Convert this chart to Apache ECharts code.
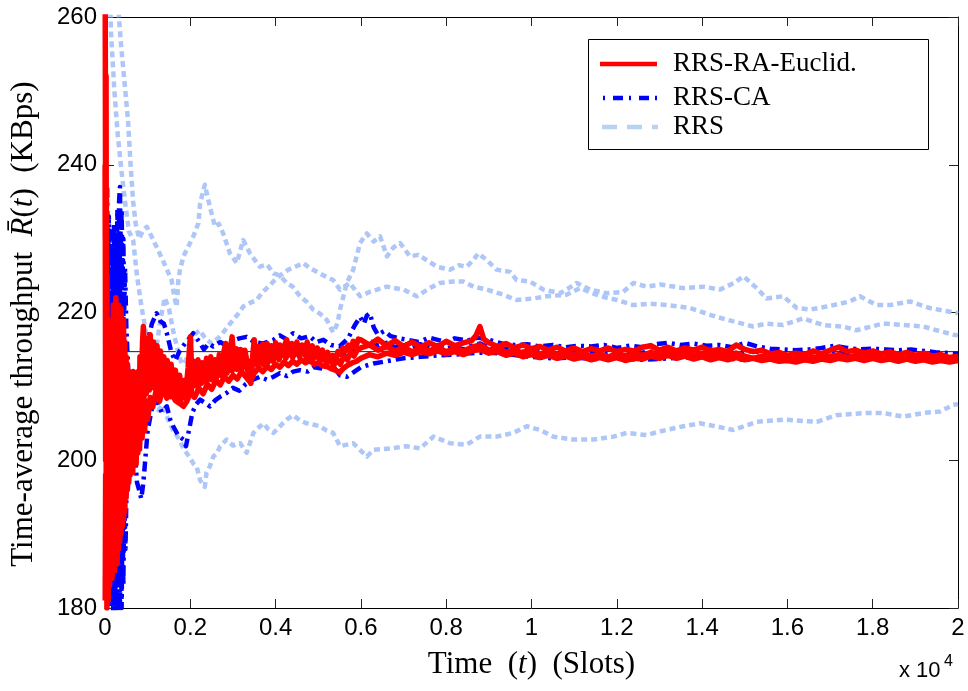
<!DOCTYPE html>
<html>
<head>
<meta charset="utf-8">
<script src="https://cdn.jsdelivr.net/npm/echarts@6/dist/echarts.min.js"></script>
<style>
html,body{margin:0;padding:0;background:#fff;}
#chart{width:968px;height:691px;}
</style>
</head>
<body>
<div id="chart"></div>
<script>
// x values are in units of 10^4 slots
const xTicks = [0, 0.2, 0.4, 0.6, 0.8, 1, 1.2, 1.4, 1.6, 1.8, 2];
const yTicks = [180, 200, 220, 240, 260];
const legendNames = ['RRS-RA-Euclid.', 'RRS-CA', 'RRS'];
const referenceLevel = [[0, 214.7], [2, 214.7]];

const rrsTop = [[0.01,300],[0.022,272],[0.03,262],[0.038,256],[0.046,251],[0.054,246],[0.06,240],[0.066,235],[0.072,232],[0.08,230],[0.088,231],[0.098,231.6],[0.11,230.2],[0.124,228.5],[0.14,226.5],[0.156,224.4],[0.163,222],[0.168,220.8],[0.172,224.4],[0.176,225.8],[0.184,227.6],[0.195,228.9],[0.207,230.3],[0.219,232.1],[0.223,234.8],[0.234,237.3],[0.246,234.3],[0.258,231.6],[0.267,232],[0.277,230.7],[0.293,228.0],[0.309,226.7],[0.324,229.8],[0.34,228.0],[0.363,226.2],[0.38,226.5],[0.395,225.3],[0.41,225],[0.426,224.0],[0.44,223.5],[0.457,222.2],[0.472,221.5],[0.488,220.4],[0.505,219.8],[0.52,219.0],[0.535,217.3],[0.545,218.5],[0.551,220.4],[0.567,224.0],[0.582,225.8],[0.598,229.4],[0.614,230.7],[0.63,229.6],[0.645,230.3],[0.661,227.6],[0.676,228.8],[0.692,229.4],[0.715,227.6],[0.735,227.8],[0.754,227.1],[0.778,226.2],[0.809,225.8],[0.83,226.4],[0.848,226.2],[0.865,227.2],[0.875,228.0],[0.895,227.1],[0.918,225.8],[0.95,225.5],[0.965,224.4],[0.996,224.2],[1.028,223.1],[1.067,222.6],[1.09,223.4],[1.106,224.0],[1.137,223.1],[1.176,222.6],[1.215,222.8],[1.239,224.0],[1.27,223.5],[1.301,223.8],[1.356,223.3],[1.403,223.5],[1.442,223.1],[1.475,224.0],[1.497,224.9],[1.528,223.3],[1.551,221.9],[1.59,222.2],[1.622,220.6],[1.653,220.4],[1.692,220.8],[1.747,221.5],[1.77,222.2],[1.809,221.0],[1.841,221.0],[1.887,221.5],[1.934,220.6],[1.981,220.1],[2.0,219.9]];

const rrsMid = [[0.003,300],[0.008,272],[0.014,258],[0.022,250],[0.03,244],[0.039,239],[0.047,235],[0.056,231],[0.066,229.8],[0.075,225],[0.085,221],[0.094,218],[0.104,214],[0.112,212],[0.12,215],[0.13,219],[0.14,222],[0.15,220.5],[0.16,217.5],[0.17,215],[0.18,213],[0.19,213.5],[0.2,215.5],[0.21,217],[0.222,217.6],[0.235,216.5],[0.25,215.8],[0.265,216.5],[0.28,217.5],[0.3,219.0],[0.312,219.8],[0.324,220.8],[0.34,221.3],[0.356,221.7],[0.37,222.8],[0.385,223.6],[0.4,224.5],[0.415,225.2],[0.43,225.8],[0.45,226.3],[0.465,226.7],[0.48,226.0],[0.5,225.4],[0.52,224.8],[0.535,224.4],[0.551,223.1],[0.574,224.0],[0.598,222.2],[0.621,222.8],[0.661,223.5],[0.7,223.1],[0.731,222.2],[0.762,223.3],[0.785,224.0],[0.817,224.2],[0.84,224.2],[0.864,223.5],[0.895,223.1],[0.934,222.4],[0.965,221.7],[1.004,221.9],[1.036,222.2],[1.082,222.4],[1.114,223.3],[1.161,222.2],[1.2,221.7],[1.239,221.0],[1.278,221.2],[1.317,221.0],[1.372,220.6],[1.434,219.4],[1.473,218.8],[1.52,218.1],[1.551,218.5],[1.59,218.3],[1.637,219.2],[1.684,218.3],[1.731,218.1],[1.762,217.6],[1.825,218.5],[1.872,218.3],[1.919,218.1],[1.95,217.6],[1.989,217.0],[2.0,216.9]];

const rrsLow = [[0.003,150],[0.015,178],[0.025,183],[0.035,188],[0.045,193],[0.055,196.5],[0.065,199.5],[0.075,202],[0.085,204.5],[0.095,207],[0.105,208.5],[0.115,207.5],[0.125,206.8],[0.135,207.5],[0.148,205.5],[0.16,204],[0.172,203],[0.185,201.5],[0.197,200.5],[0.208,199.5],[0.215,199.1],[0.223,197.3],[0.234,196.4],[0.238,198.3],[0.246,199.2],[0.254,200.5],[0.262,200.9],[0.27,201.9],[0.285,202.8],[0.3,202.0],[0.317,202.3],[0.332,201.0],[0.348,203.7],[0.36,204.4],[0.371,205.0],[0.383,204.2],[0.395,203.7],[0.41,204.6],[0.426,205.5],[0.441,206.1],[0.457,205.4],[0.473,205.0],[0.49,204.8],[0.504,204.6],[0.52,204.0],[0.535,203.7],[0.551,201.9],[0.582,202.3],[0.614,200.5],[0.629,201.4],[0.668,201.6],[0.707,201.9],[0.739,201.6],[0.77,203.2],[0.809,202.3],[0.848,202.1],[0.879,203.2],[0.918,203.2],[0.957,203.7],[0.989,204.6],[1.02,204.1],[1.051,203.2],[1.098,202.8],[1.145,202.8],[1.192,203.2],[1.223,203.7],[1.27,203.4],[1.301,203.9],[1.356,204.6],[1.395,205.0],[1.44,204.5],[1.473,204.1],[1.528,205.2],[1.59,205.5],[1.669,205.2],[1.715,206.1],[1.786,206.4],[1.825,206.4],[1.872,205.9],[1.919,206.4],[1.958,206.6],[1.989,207.5],[2.0,207.6]];

const caHi = [[0.001,250],[0.003,228],[0.005,237],[0.007,222],[0.009,233],[0.011,220],[0.013,231],[0.015,218],[0.017,229],[0.019,221],[0.021,232],[0.023,219],[0.025,230],[0.027,222],[0.029,234],[0.031,225],[0.033,235],[0.035,237],[0.037,228],[0.039,234],[0.041,224],[0.043,230],[0.045,220],[0.047,226],[0.05,218],[0.053,214],[0.056,210],[0.06,212],[0.064,206],[0.068,208],[0.072,205],[0.076,209],[0.08,212],[0.085,211],[0.09,213.5],[0.1,216],[0.11,218.5],[0.121,219.9],[0.13,218.8],[0.138,218.5],[0.145,217.2],[0.156,214.5],[0.165,213.5],[0.175,214.8],[0.185,215.6],[0.196,216.4],[0.207,217.2],[0.22,216.1],[0.232,215.0],[0.243,215.8],[0.254,215.4],[0.27,216.0],[0.285,215.5],[0.3,216.2],[0.315,216.5],[0.332,216.7],[0.35,216.0],[0.37,215.8],[0.395,216.3],[0.41,216.9],[0.425,216.4],[0.441,217.2],[0.46,216.5],[0.48,216.8],[0.495,216.0],[0.512,216.3],[0.53,215.6],[0.55,215.4],[0.57,216.5],[0.585,218.2],[0.598,219.4],[0.607,218.5],[0.614,219.6],[0.621,219.9],[0.63,218.0],[0.64,217.0],[0.655,217.5],[0.67,216.8],[0.69,216.5],[0.71,216.3],[0.735,216.0],[0.76,216.6],[0.78,216.3],[0.8,216.0],[0.82,216.5],[0.85,216.2],[0.875,216.6],[0.9,216.3],[0.93,215.8],[0.96,215.6],[0.99,215.7],[1.02,215.4],[1.05,215.6],[1.08,215.3],[1.11,215.5],[1.14,215.4],[1.17,215.6],[1.2,215.2],[1.23,215.5],[1.26,215.3],[1.29,215.7],[1.32,215.9],[1.35,215.6],[1.38,215.8],[1.41,215.5],[1.44,215.6],[1.47,215.3],[1.5,215.9],[1.53,215.4],[1.56,215.1],[1.59,215.0],[1.62,214.9],[1.65,215.0],[1.68,215.2],[1.71,215.5],[1.74,215.2],[1.77,215.0],[1.8,215.1],[1.83,215.0],[1.86,214.9],[1.89,215.0],[1.92,214.8],[1.95,214.6],[1.98,214.5],[2.0,214.4]];

const caMid = [[0.001,215],[0.003,232],[0.005,205],[0.007,226],[0.009,198],[0.011,222],[0.013,196],[0.015,225],[0.017,199],[0.019,228],[0.021,195],[0.023,224],[0.025,190],[0.027,218],[0.029,195],[0.031,226],[0.033,200],[0.035,230],[0.037,205],[0.039,227],[0.041,202],[0.043,221],[0.045,199],[0.047,214],[0.05,200],[0.053,210],[0.056,198],[0.06,207],[0.064,201],[0.068,211],[0.072,205],[0.076,208],[0.08,203],[0.084,206],[0.088,208],[0.095,212.7],[0.105,211],[0.115,213.5],[0.125,212],[0.135,210.2],[0.148,211.5],[0.16,209.5],[0.172,208.6],[0.184,209.8],[0.196,210.5],[0.21,212.2],[0.225,211],[0.24,211.9],[0.255,212.6],[0.27,211.8],[0.285,213.2],[0.3,213.6],[0.32,212.7],[0.34,213.4],[0.36,214.0],[0.38,213.5],[0.4,214.2],[0.42,214.6],[0.44,214.1],[0.46,214.8],[0.48,214.2],[0.5,213.9],[0.52,213.4],[0.54,213.8],[0.56,214.3],[0.58,215.0],[0.6,215.6],[0.62,216.2],[0.64,215.5],[0.66,215.9],[0.68,215.3],[0.7,215.8],[0.72,215.4],[0.74,215.7],[0.76,215.2],[0.78,215.6],[0.8,215.1],[0.82,215.4],[0.84,215.0],[0.86,215.5],[0.88,215.8],[0.9,215.2],[0.92,214.9],[0.95,215.1],[0.98,214.7],[1.01,214.9],[1.04,214.5],[1.07,214.6],[1.1,214.3],[1.13,214.6],[1.16,214.4],[1.19,214.7],[1.22,214.3],[1.25,214.5],[1.28,214.7],[1.31,214.9],[1.34,214.6],[1.37,214.8],[1.4,214.5],[1.43,214.7],[1.46,214.4],[1.49,214.6],[1.52,214.8],[1.55,214.4],[1.58,214.2],[1.61,214.0],[1.64,214.3],[1.67,214.1],[1.7,214.4],[1.73,214.6],[1.76,214.3],[1.79,214.1],[1.82,214.4],[1.85,214.3],[1.88,214.1],[1.91,214.2],[1.94,214.0],[1.97,213.8],[2.0,213.9]];

const caLo = [[0.001,240],[0.003,210],[0.005,195],[0.007,185],[0.009,192],[0.011,182],[0.013,190],[0.015,180],[0.017,188],[0.019,179],[0.021,186],[0.023,178],[0.025,187],[0.027,179],[0.029,189],[0.031,178],[0.033,190],[0.035,179],[0.037,191],[0.039,180],[0.041,193],[0.043,183],[0.045,195],[0.048,188],[0.051,198],[0.055,200],[0.06,204],[0.065,202],[0.07,201],[0.075,197],[0.08,196],[0.085,194.8],[0.09,197],[0.095,200.5],[0.1,204],[0.11,207],[0.121,208.2],[0.133,206.5],[0.145,207.3],[0.153,205.5],[0.16,204.6],[0.172,203.3],[0.184,202.8],[0.19,201.9],[0.196,203.8],[0.205,206.5],[0.214,207.6],[0.223,208.2],[0.234,207.8],[0.246,207.3],[0.258,208.1],[0.27,208.6],[0.285,209.1],[0.3,209.8],[0.315,209.4],[0.33,210.3],[0.347,210.9],[0.363,211.3],[0.38,210.9],[0.395,211.3],[0.41,211.8],[0.426,211.4],[0.441,212.0],[0.457,212.2],[0.475,212.0],[0.49,212.6],[0.51,212.4],[0.535,212.7],[0.551,211.5],[0.567,211.3],[0.585,212.0],[0.6,212.6],[0.63,213.1],[0.66,213.4],[0.7,213.8],[0.74,214.0],[0.78,214.2],[0.82,214.3],[0.86,214.5],[0.9,214.6],[0.95,214.3],[1.0,214.0],[1.05,213.8],[1.1,213.9],[1.15,213.7],[1.2,213.8],[1.25,213.6],[1.3,213.7],[1.35,213.9],[1.4,214.0],[1.45,213.8],[1.5,213.6],[1.55,213.8],[1.6,213.7],[1.65,213.6],[1.7,213.8],[1.75,213.9],[1.8,213.7],[1.85,213.8],[1.9,213.9],[1.95,213.7],[2.0,213.6]];

const raHi = [[0.0005,262],[0.0015,230],[0.0025,252],[0.0035,205],[0.0045,225],[0.006,198],[0.0075,219],[0.009,190],[0.0105,216],[0.012,195],[0.0135,219],[0.015,200],[0.0165,218],[0.018,197],[0.0195,221],[0.021,203],[0.0225,220],[0.024,201],[0.0255,222],[0.027,205],[0.0285,219],[0.03,199],[0.0315,221],[0.033,204],[0.0345,218],[0.036,201],[0.0375,220.5],[0.039,206],[0.0405,217],[0.042,203],[0.0435,219],[0.045,205],[0.0465,216],[0.048,202],[0.0495,214],[0.051,206],[0.0525,213],[0.054,200],[0.0555,212],[0.057,204],[0.0585,211],[0.06,201],[0.062,210],[0.064,205],[0.066,212],[0.068,200],[0.07,208],[0.072,203],[0.074,210],[0.076,205],[0.078,212],[0.08,207],[0.082,214],[0.085,209],[0.088,216],[0.09,218.1],[0.094,211.5],[0.098,216.5],[0.102,210.5],[0.106,217],[0.11,211.5],[0.114,216],[0.118,210.8],[0.122,215.5],[0.126,211],[0.13,214.8],[0.134,210.2],[0.138,214],[0.142,209.8],[0.146,213.5],[0.15,210.2],[0.155,213],[0.16,209.5],[0.165,212.2],[0.17,209.1],[0.175,211.5],[0.18,208.7],[0.185,210.8],[0.19,209.5],[0.195,212.6],[0.2,216.7],[0.204,211.2],[0.208,213.4],[0.213,210.6],[0.218,213.6],[0.223,211],[0.228,213.2],[0.233,210.9],[0.238,213.8],[0.243,211.3],[0.248,214],[0.253,211.2],[0.258,213.6],[0.263,211.8],[0.268,214.3],[0.273,212],[0.278,214.5],[0.283,215.8],[0.288,212.4],[0.293,214.6],[0.298,216.7],[0.303,213],[0.308,215.1],[0.313,212.8],[0.318,215.0],[0.323,212.6],[0.328,214.9],[0.333,213.3],[0.338,211.5],[0.342,210.4],[0.346,214],[0.35,216.3],[0.355,213.5],[0.36,215.4],[0.365,213.3],[0.37,215.7],[0.375,213.6],[0.38,215.8],[0.385,213.9],[0.39,215.5],[0.395,213.7],[0.4,215.9],[0.405,214.0],[0.41,215.6],[0.415,214.2],[0.42,215.4],[0.426,216.3],[0.432,214.3],[0.438,215.8],[0.444,214.4],[0.45,216.0],[0.456,214.2],[0.462,215.6],[0.468,214.5],[0.474,216.0],[0.48,214.6],[0.486,215.5],[0.492,214.3],[0.498,215.2],[0.504,214.0],[0.51,214.9],[0.516,213.8],[0.522,214.6],[0.528,213.5],[0.534,214.2],[0.54,213.6],[0.546,214.7],[0.552,214.3],[0.558,215.2],[0.564,214.8],[0.57,215.6],[0.576,215.0],[0.582,216.1],[0.588,215.3],[0.594,216.4],[0.6,216.3],[0.62,215.6],[0.64,216.4],[0.66,215.5],[0.68,216.2],[0.7,215.4],[0.72,216.0],[0.74,215.3],[0.76,215.9],[0.78,215.4],[0.8,216.1],[0.82,215.5],[0.84,215.9],[0.86,216.2],[0.87,216.9],[0.879,218.1],[0.888,216.4],[0.9,215.9],[0.92,215.4],[0.94,215.8],[0.96,215.2],[0.98,215.6],[1.0,215.1],[1.02,215.4],[1.04,214.9],[1.06,215.3],[1.08,214.8],[1.1,215.2],[1.12,214.7],[1.14,215.1],[1.16,214.8],[1.18,215.2],[1.2,214.7],[1.22,215.0],[1.24,214.8],[1.26,215.3],[1.28,215.5],[1.3,214.9],[1.32,215.3],[1.34,214.8],[1.36,215.2],[1.38,214.9],[1.4,215.3],[1.42,214.8],[1.44,215.0],[1.46,214.7],[1.48,215.6],[1.5,215.0],[1.52,214.7],[1.54,214.9],[1.56,214.4],[1.58,214.6],[1.6,214.2],[1.62,214.5],[1.64,214.3],[1.66,214.8],[1.68,214.4],[1.7,214.9],[1.72,215.3],[1.74,214.7],[1.76,214.9],[1.78,214.5],[1.8,214.8],[1.82,214.4],[1.84,214.7],[1.86,214.3],[1.88,214.6],[1.9,214.2],[1.92,214.5],[1.94,214.1],[1.96,214.3],[1.98,213.9],[2.0,214.1]];

const raMid = [[0.0005,240],[0.0015,200],[0.0025,235],[0.0035,190],[0.0045,215],[0.006,186],[0.0075,212],[0.009,189],[0.0105,213],[0.012,191],[0.0135,214],[0.015,190],[0.0165,215],[0.018,193],[0.0195,216],[0.021,192],[0.0225,214],[0.024,195],[0.0255,217],[0.027,194],[0.0285,215],[0.03,196],[0.0315,216],[0.033,195],[0.0345,214],[0.036,197],[0.0375,215],[0.039,198],[0.0405,213],[0.042,197],[0.0435,214],[0.045,199],[0.0465,212],[0.048,198],[0.0495,213],[0.051,201],[0.0525,211],[0.054,200],[0.0555,212],[0.057,202],[0.0585,210],[0.06,201],[0.062,211],[0.064,203],[0.066,210],[0.068,202],[0.07,209],[0.073,204],[0.076,210],[0.079,205],[0.082,211],[0.085,207],[0.088,212],[0.091,208],[0.094,213],[0.097,209],[0.1,214],[0.104,209.5],[0.108,213.8],[0.113,209.8],[0.118,213.2],[0.123,209.3],[0.128,212.6],[0.133,209.4],[0.138,212.0],[0.143,208.9],[0.148,211.6],[0.154,208.6],[0.16,211.2],[0.166,208.3],[0.172,210.5],[0.178,208.1],[0.184,209.8],[0.19,208.4],[0.196,210.6],[0.202,209.3],[0.208,211.9],[0.214,210.1],[0.22,212.0],[0.226,210.4],[0.232,212.3],[0.238,210.6],[0.244,212.5],[0.25,210.9],[0.256,212.8],[0.262,211.2],[0.268,213.0],[0.274,211.4],[0.28,213.3],[0.286,211.8],[0.292,213.5],[0.298,212.1],[0.304,213.8],[0.31,212.3],[0.316,214.0],[0.322,212.5],[0.328,213.9],[0.334,212.2],[0.34,211.4],[0.346,213.2],[0.352,214.4],[0.358,212.8],[0.364,214.5],[0.37,213.0],[0.376,214.6],[0.382,213.2],[0.388,214.8],[0.394,213.4],[0.4,214.9],[0.408,213.6],[0.416,215.0],[0.424,213.8],[0.432,215.1],[0.44,213.9],[0.448,215.2],[0.456,214.0],[0.464,215.1],[0.472,213.9],[0.48,214.9],[0.488,213.7],[0.496,214.6],[0.504,213.4],[0.512,214.3],[0.52,213.1],[0.528,213.8],[0.536,212.8],[0.544,213.6],[0.552,213.0],[0.56,214.1],[0.568,213.6],[0.576,214.6],[0.584,214.1],[0.592,215.0],[0.6,215.2],[0.62,215.6],[0.64,214.9],[0.66,215.4],[0.68,214.8],[0.7,215.3],[0.72,214.7],[0.74,215.2],[0.76,214.8],[0.78,215.3],[0.8,214.7],[0.82,215.1],[0.84,214.8],[0.86,215.3],[0.88,215.6],[0.9,214.9],[0.92,215.2],[0.94,214.6],[0.96,214.9],[0.98,214.5],[1.0,214.8],[1.02,214.4],[1.04,214.7],[1.06,214.3],[1.08,214.6],[1.1,214.2],[1.12,214.5],[1.14,214.1],[1.16,214.4],[1.18,214.0],[1.2,214.4],[1.22,214.1],[1.24,214.5],[1.26,214.2],[1.28,214.6],[1.3,214.3],[1.32,214.7],[1.34,214.3],[1.36,214.6],[1.38,214.2],[1.4,214.5],[1.42,214.1],[1.44,214.4],[1.46,214.0],[1.48,214.5],[1.5,214.1],[1.52,213.8],[1.54,214.1],[1.56,213.7],[1.58,213.9],[1.6,213.5],[1.62,213.8],[1.64,213.6],[1.66,214.0],[1.68,213.7],[1.7,214.1],[1.72,214.3],[1.74,213.9],[1.76,214.2],[1.78,213.8],[1.8,214.1],[1.82,213.7],[1.84,214.0],[1.86,213.6],[1.88,213.9],[1.9,213.6],[1.92,213.8],[1.94,213.5],[1.96,213.7],[1.98,213.4],[2.0,213.6]];

const raLo = [[0.0005,181],[0.0015,198],[0.0025,182],[0.0035,202],[0.0045,180],[0.006,199],[0.0075,181],[0.009,203],[0.0105,183],[0.012,200],[0.0135,185],[0.015,205],[0.0165,184],[0.018,202],[0.0195,186],[0.021,206],[0.0225,185],[0.024,204],[0.0255,187],[0.027,207],[0.0285,186],[0.03,205],[0.0315,188],[0.033,208],[0.0345,189],[0.036,206],[0.0375,190],[0.039,209],[0.0405,191],[0.042,207],[0.0435,192],[0.045,210],[0.0465,193],[0.048,208],[0.0495,195],[0.051,210],[0.0525,196],[0.054,209],[0.0555,197],[0.057,211],[0.0585,198],[0.06,210],[0.062,199],[0.064,211],[0.065,198.3],[0.067,207],[0.069,200],[0.071,206],[0.073,199.5],[0.075,205],[0.077,201],[0.079,206],[0.081,201.5],[0.084,207],[0.087,203],[0.09,206.5],[0.093,204],[0.096,208],[0.1,205.5],[0.106,208.5],[0.112,207.2],[0.12,209.5],[0.128,208],[0.136,210],[0.145,208.4],[0.155,209.2],[0.165,208.1],[0.175,207.7],[0.184,207.3],[0.192,208.0],[0.2,209.2],[0.21,208.5],[0.22,209.8],[0.23,209.0],[0.24,210.3],[0.25,209.6],[0.26,210.8],[0.27,210.2],[0.28,211.3],[0.29,210.7],[0.3,211.5],[0.31,211.0],[0.32,212.0],[0.33,211.3],[0.34,210.6],[0.35,211.8],[0.36,212.5],[0.37,212.0],[0.38,212.7],[0.39,212.3],[0.4,213.0],[0.41,212.6],[0.42,213.3],[0.43,212.8],[0.44,213.4],[0.45,213.0],[0.46,213.6],[0.47,213.2],[0.48,213.5],[0.49,213.0],[0.5,213.2],[0.51,212.8],[0.52,212.7],[0.53,212.4],[0.54,212.2],[0.55,211.9],[0.56,212.5],[0.57,212.9],[0.58,213.2],[0.59,213.4],[0.6,213.8],[0.62,214.3],[0.64,214.0],[0.66,214.5],[0.68,214.2],[0.7,214.6],[0.72,214.3],[0.74,214.7],[0.76,214.4],[0.78,214.8],[0.8,214.4],[0.82,214.7],[0.84,214.3],[0.86,214.8],[0.88,215.0],[0.9,214.5],[0.92,214.7],[0.94,214.2],[0.96,214.5],[0.98,214.0],[1.0,214.3],[1.02,213.9],[1.04,214.2],[1.06,213.8],[1.08,214.1],[1.1,213.7],[1.12,214.0],[1.14,213.6],[1.16,213.9],[1.18,213.6],[1.2,213.9],[1.22,213.5],[1.24,213.8],[1.26,213.7],[1.28,214.1],[1.3,213.8],[1.32,214.2],[1.34,213.8],[1.36,214.1],[1.38,213.7],[1.4,214.0],[1.42,213.6],[1.44,213.9],[1.46,213.6],[1.48,213.9],[1.5,213.6],[1.52,213.8],[1.54,213.5],[1.56,213.7],[1.58,213.4],[1.6,213.5],[1.62,213.3],[1.64,213.6],[1.66,213.4],[1.68,213.7],[1.7,213.5],[1.72,213.8],[1.74,213.6],[1.76,213.8],[1.78,213.5],[1.8,213.8],[1.82,213.5],[1.84,213.7],[1.86,213.4],[1.88,213.7],[1.9,213.4],[1.92,213.6],[1.94,213.3],[1.96,213.5],[1.98,213.3],[2.0,213.5]];

const RED = '#ff0000', BLUE = '#0000ff', LIGHT = '#aec6f8';
const dashRRS = [6, 4];
const dashCA = [10, 5, 3, 5];
function lineSeries(name, data, color, width, dash, z) {
  return {
    name: name, type: 'line', data: data, showSymbol: false, symbol: 'none',
    clip: true, z: z, silent: true,
    lineStyle: { color: color, width: width, type: dash, cap: 'butt', join: 'round' },
    itemStyle: { color: color }
  };
}

const series = [
  { name: 'ref', type: 'line', data: referenceLevel, showSymbol: false, symbol: 'none', z: 1, silent: true,
    lineStyle: { color: '#222', width: 1 } },
  lineSeries('RRS', rrsTop, LIGHT, 4.5, dashRRS, 2),
  lineSeries('RRS', rrsMid, LIGHT, 4.5, dashRRS, 2),
  lineSeries('RRS', rrsLow, LIGHT, 4.5, dashRRS, 2),
  lineSeries('RRS-CA', caLo, BLUE, 4.5, dashCA, 3),
  lineSeries('RRS-CA', caMid, BLUE, 4.5, dashCA, 3),
  lineSeries('RRS-CA', caHi, BLUE, 4.5, dashCA, 3),
  lineSeries('RRS-RA-Euclid.', raLo, RED, 5.5, 'solid', 4),
  lineSeries('RRS-RA-Euclid.', raMid, RED, 5.5, 'solid', 4),
  lineSeries('RRS-RA-Euclid.', raHi, RED, 5.5, 'solid', 4)
];

const tickFmt = v => String(+(+v).toFixed(1));
const axisLineStyle = { show: true, onZero: false, lineStyle: { color: '#000', width: 1 } };
const tickStyle = { show: true, inside: true, length: 9, lineStyle: { color: '#222', width: 1 } };

// legend drawn as a box with sample lines
const LX = 588, LY = 39, LW = 340, LH = 110;
const legendRows = [
  { name: legendNames[0], y: 64, color: RED, dash: null, x1: 600, x2: 657 },
  { name: legendNames[1], y: 98, color: BLUE, dash: [2, 8, 10, 6], x1: 603, x2: 658 },
  { name: legendNames[2], y: 127, color: '#b8d2f2', dash: [15, 10], x1: 602, x2: 658 }
];
const legendGraphics = [{
  type: 'rect', z: 100, silent: true,
  shape: { x: LX + 0.5, y: LY + 0.5, width: LW, height: LH },
  style: { fill: '#fff', stroke: '#000', lineWidth: 1 }
}];
legendRows.forEach(r => {
  legendGraphics.push({
    type: 'line', z: 101, silent: true,
    shape: { x1: r.x1, y1: r.y, x2: r.x2, y2: r.y },
    style: { stroke: r.color, lineWidth: 4.5, lineDash: r.dash }
  });
  legendGraphics.push({
    type: 'text', z: 101, silent: true, x: 673, y: r.y,
    style: { text: r.name, fontFamily: 'Liberation Serif', fontSize: 27, fill: '#000', verticalAlign: 'middle', align: 'left' }
  });
});

const chart = echarts.init(document.getElementById('chart'), null, { renderer: 'canvas' });
chart.setOption({
  animation: false,
  backgroundColor: '#fff',
  grid: { left: 105, right: 10, top: 17, bottom: 83, containLabel: false },
  xAxis: [{
    type: 'value', position: 'bottom', min: 0, max: 2, interval: 0.2,
    axisLine: axisLineStyle, axisTick: tickStyle, splitLine: { show: false },
    axisLabel: { fontFamily: 'Liberation Sans', fontSize: 24, color: '#000', margin: 8, formatter: tickFmt },
    name: 'Time  ({i|t})  (Slots)', nameLocation: 'middle', nameGap: 41,
    nameTextStyle: { fontFamily: 'Liberation Serif', fontSize: 31, color: '#000',
      rich: { i: { fontFamily: 'Liberation Serif', fontStyle: 'italic', fontSize: 31, color: '#000' } } }
  }, {
    type: 'value', position: 'top', min: 0, max: 2, interval: 0.2,
    axisLine: axisLineStyle, axisTick: tickStyle, splitLine: { show: false }, axisLabel: { show: false }
  }],
  yAxis: [{
    type: 'value', position: 'left', min: 180, max: 260, interval: 20,
    axisLine: axisLineStyle, axisTick: tickStyle, splitLine: { show: false },
    axisLabel: { fontFamily: 'Liberation Sans', fontSize: 24, color: '#000', margin: 8 },
    name: 'Time-average throughput  {i|R\u0304}({i|t})  (KBps)   ', nameLocation: 'middle', nameGap: 66,
    nameTextStyle: { fontFamily: 'Liberation Serif', fontSize: 31, color: '#000',
      rich: { i: { fontFamily: 'Liberation Serif', fontStyle: 'italic', fontSize: 31, color: '#000' } } }
  }, {
    type: 'value', position: 'right', min: 180, max: 260, interval: 20,
    axisLine: axisLineStyle, axisTick: tickStyle, splitLine: { show: false }, axisLabel: { show: false }
  }],
  graphic: legendGraphics.concat([
    { type: 'text', x: 899, y: 682, silent: true,
      style: { text: 'x 10', fontFamily: 'Liberation Sans', fontSize: 22, fill: '#000', verticalAlign: 'bottom' } },
    { type: 'text', x: 944, y: 670, silent: true,
      style: { text: '4', fontFamily: 'Liberation Sans', fontSize: 16, fill: '#000', verticalAlign: 'bottom' } }
  ]),
  series: series
});
</script>
</body>
</html>
